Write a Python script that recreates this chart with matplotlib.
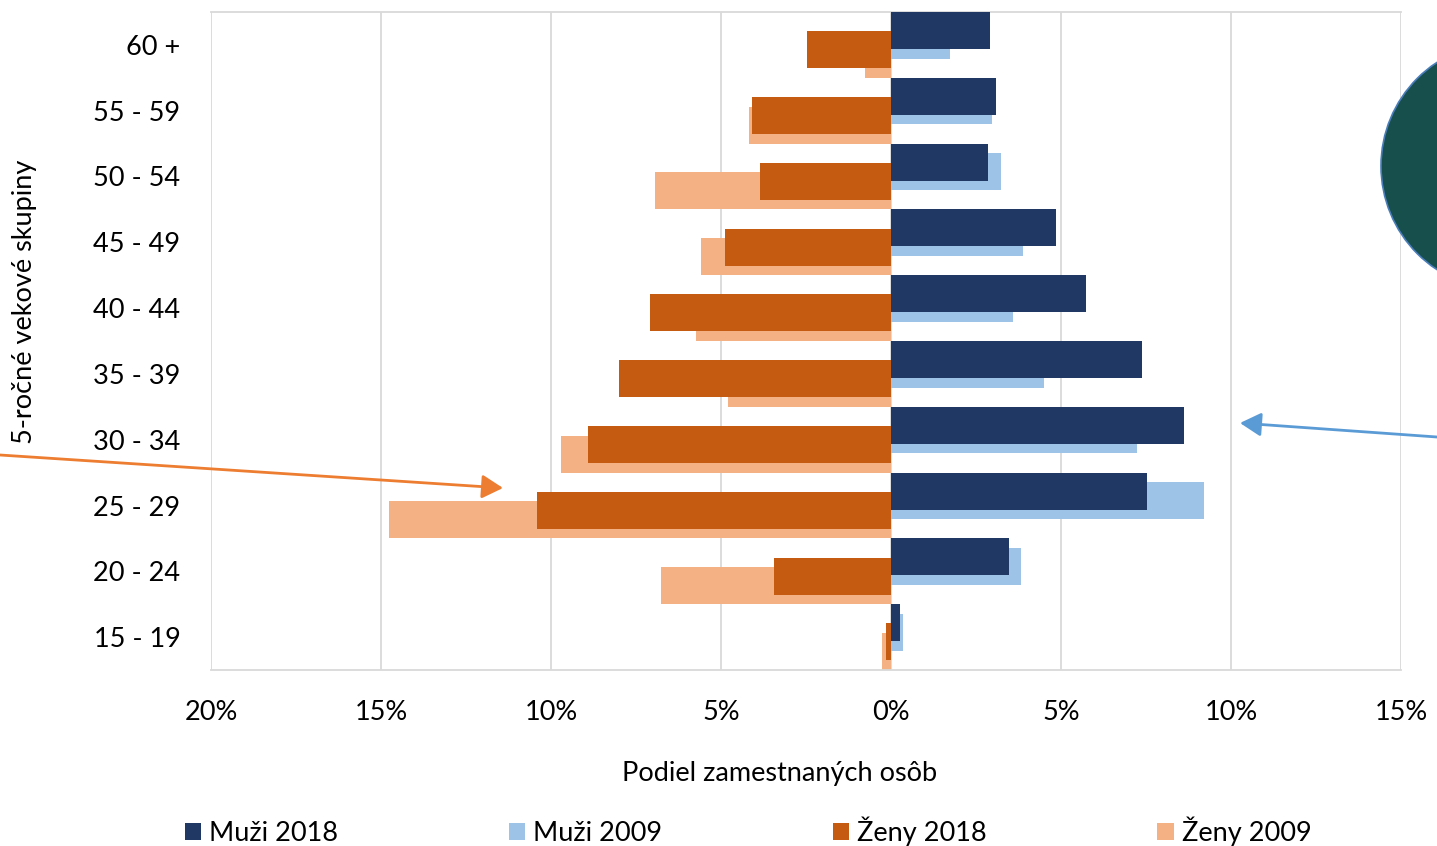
import matplotlib
matplotlib.use("Agg")
import matplotlib.pyplot as plt
from matplotlib.patches import Circle, FancyArrowPatch
from matplotlib.ticker import FuncFormatter
import numpy as np

plt.rcParams['font.family'] = ['Lato', 'DejaVu Sans']

categories = ["15 - 19", "20 - 24", "25 - 29", "30 - 34", "35 - 39",
              "40 - 44", "45 - 49", "50 - 54", "55 - 59", "60 +"]
muzi_2018 = [0.26, 3.47, 7.53, 8.62, 7.38, 5.74, 4.85, 2.85, 3.09, 2.91]
muzi_2009 = [0.35, 3.82, 9.21, 7.24, 4.50, 3.59, 3.88, 3.24, 2.97, 1.74]
zeny_2018 = [-0.15, -3.44, -10.41, -8.91, -8.00, -7.09, -4.88, -3.85, -4.09, -2.47]
zeny_2009 = [-0.26, -6.76, -14.76, -9.71, -4.79, -5.74, -5.59, -6.94, -4.18, -0.76]
x_ticks = [-20, -15, -10, -5, 0, 5, 10, 15]

c_m18 = "#203864"
c_m09 = "#9DC3E6"
c_z18 = "#C55A11"
c_z09 = "#F4B183"
FS = 19.5

fig = plt.figure(figsize=(14.37, 8.46), dpi=100)
ax = fig.add_axes([211/1437, 1-670/846, (1401-211)/1437, (670-12)/846])

y = np.arange(len(categories))
h = 0.562
d = 0.146
ax.barh(y - 1.5*d, zeny_2009, height=h, color=c_z09, label="Ženy 2009", zorder=2)
ax.barh(y - 0.5*d, zeny_2018, height=h, color=c_z18, label="Ženy 2018", zorder=3)
ax.barh(y + 0.5*d, muzi_2009, height=h, color=c_m09, label="Muži 2009", zorder=2)
ax.barh(y + 1.5*d, muzi_2018, height=h, color=c_m18, label="Muži 2018", zorder=3)

ax.set_xlim(-20, 15)
ax.set_ylim(-0.5, len(categories) - 0.5)
ax.set_xticks(x_ticks)
ax.xaxis.set_major_formatter(FuncFormatter(lambda v, p: f"{abs(int(v))}%"))
ax.set_yticks(y)
ax.set_yticklabels(categories)
ax.tick_params(axis='both', length=0, labelsize=FS, colors='black')
ax.tick_params(axis='y', pad=22)
ax.tick_params(axis='x', pad=21.5)
ax.grid(axis='x', color='#D9D9D9', linewidth=1.3, zorder=0)
ax.set_axisbelow(True)
for s in ['left', 'right']:
    ax.spines[s].set_visible(False)
for s in ['top', 'bottom']:
    ax.spines[s].set_color('#D9D9D9')
    ax.spines[s].set_linewidth(1.3)

fig.text(780/1437, 1-773/846, "Podiel zamestnaných osôb", ha='center', va='center', fontsize=FS)
fig.text(25/1437, 1-302/846, "5-ročné vekové skupiny", ha='center', va='center',
         rotation=90, fontsize=FS)

handles, labels = ax.get_legend_handles_labels()
order = [3, 2, 1, 0]
fig.legend([handles[i] for i in order], [labels[i] for i in order],
           loc='center', bbox_to_anchor=(748/1437, 1-831/846), ncol=4, frameon=False,
           fontsize=FS, handlelength=0.6, handleheight=0.6, handletextpad=0.3,
           columnspacing=6.3, borderaxespad=0)

# decorative shapes
circ = Circle((1505, 846-166), 124, transform=None, facecolor="#174F4D",
              edgecolor="#4A7EBB", linewidth=1.2, zorder=5)
fig.add_artist(circ)
a1 = FancyArrowPatch((0, 846-455), (503, 846-488), transform=None,
                     arrowstyle='-|>,head_length=8,head_width=4.5', color="#ED7D31",
                     linewidth=2, mutation_scale=1.6, shrinkA=0, shrinkB=0, zorder=6)
fig.add_artist(a1)
a2 = FancyArrowPatch((1437, 846-437), (1240, 846-423), transform=None,
                     arrowstyle='-|>,head_length=8,head_width=4.5', color="#5B9BD5",
                     linewidth=2, mutation_scale=1.6, shrinkA=0, shrinkB=0, zorder=6)
fig.add_artist(a2)

fig.savefig("out.png", dpi=100)
